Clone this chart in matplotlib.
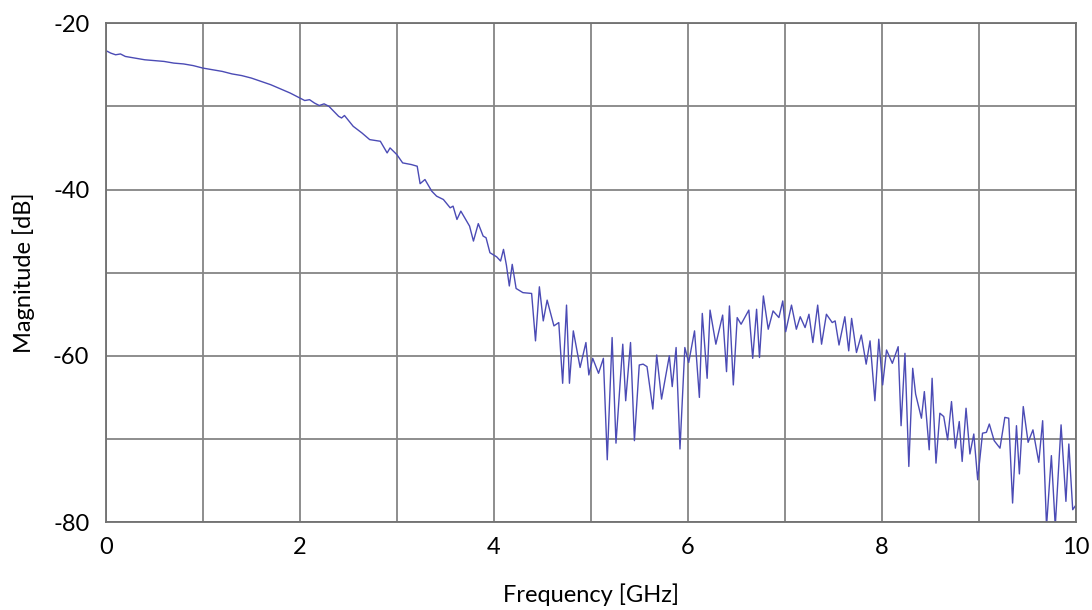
import matplotlib
matplotlib.use("Agg")
import matplotlib.pyplot as plt
from matplotlib.ticker import MultipleLocator

plt.rcParams['font.family'] = ['Lato', 'DejaVu Sans']
plt.rcParams['axes.unicode_minus'] = False

# Frequency response
freq = [0.00, 0.05, 0.10, 0.15, 0.20, 0.30, 0.40, 0.50, 0.60, 0.70,
        0.80, 0.90, 1.00, 1.10, 1.20, 1.30, 1.40, 1.50, 1.60, 1.70,
        1.80, 1.90, 2.00, 2.05, 2.10, 2.15, 2.20, 2.25, 2.30, 2.35,
        2.40, 2.43, 2.46, 2.55, 2.64, 2.72, 2.83, 2.90, 2.93, 3.00,
        3.06, 3.15, 3.21, 3.24, 3.29, 3.36, 3.41, 3.48, 3.55, 3.58,
        3.62, 3.66, 3.72, 3.75, 3.79, 3.84, 3.89, 3.92, 3.96, 4.03,
        4.07, 4.10, 4.13, 4.16, 4.19, 4.23, 4.30, 4.39, 4.43, 4.47,
        4.51, 4.55, 4.62, 4.67, 4.71, 4.75, 4.78, 4.82, 4.89, 4.95,
        4.98, 5.02, 5.08, 5.13, 5.17, 5.22, 5.26, 5.33, 5.36, 5.41,
        5.45, 5.50, 5.54, 5.58, 5.64, 5.68, 5.73, 5.81, 5.84, 5.88,
        5.92, 5.97, 6.01, 6.07, 6.12, 6.15, 6.20, 6.23, 6.29, 6.36,
        6.40, 6.43, 6.47, 6.51, 6.55, 6.63, 6.67, 6.71, 6.74, 6.78,
        6.83, 6.88, 6.94, 6.98, 7.01, 7.07, 7.12, 7.16, 7.21, 7.25,
        7.29, 7.34, 7.38, 7.43, 7.49, 7.52, 7.56, 7.62, 7.66, 7.69,
        7.74, 7.79, 7.84, 7.88, 7.93, 7.97, 8.01, 8.05, 8.11, 8.17,
        8.20, 8.24, 8.28, 8.32, 8.35, 8.41, 8.44, 8.49, 8.52, 8.56,
        8.60, 8.64, 8.68, 8.72, 8.76, 8.80, 8.83, 8.87, 8.91, 8.95,
        8.99, 9.04, 9.08, 9.11, 9.16, 9.22, 9.27, 9.31, 9.35, 9.39,
        9.42, 9.46, 9.51, 9.56, 9.62, 9.66, 9.70, 9.75, 9.79, 9.85,
        9.90, 9.93, 9.97, 10.00]

mag = [-23.3, -23.6, -23.8, -23.7, -24.0, -24.2, -24.4, -24.5, -24.6, -24.8,
       -24.9, -25.1, -25.4, -25.6, -25.8, -26.1, -26.3, -26.6, -27.0, -27.4,
       -27.9, -28.4, -29.0, -29.3, -29.2, -29.6, -29.9, -29.7, -30.0, -30.6,
       -31.2, -31.4, -31.1, -32.4, -33.2, -34.0, -34.2, -35.6, -35.0, -35.8,
       -36.8, -37.0, -37.2, -39.3, -38.8, -40.2, -40.8, -41.2, -42.2, -42.0,
       -43.6, -42.6, -43.8, -44.4, -46.2, -44.1, -45.6, -45.8, -47.6, -48.1,
       -48.6, -47.2, -49.1, -51.6, -49.0, -51.9, -52.4, -52.5, -58.2, -51.7,
       -55.8, -53.3, -56.4, -56.0, -63.3, -53.9, -63.3, -57.0, -61.4, -58.4,
       -62.3, -60.3, -62.1, -60.3, -72.5, -57.8, -70.5, -58.6, -65.4, -58.4,
       -70.2, -61.1, -61.0, -61.3, -66.4, -59.9, -65.2, -60.0, -63.7, -59.0,
       -71.2, -59.0, -60.8, -57.0, -65.0, -54.9, -62.7, -54.5, -58.6, -55.1,
       -61.9, -54.0, -63.5, -55.4, -56.2, -54.5, -60.3, -54.4, -60.2, -52.8,
       -56.8, -54.6, -55.4, -53.4, -57.1, -53.9, -56.8, -55.3, -56.6, -55.0,
       -58.4, -53.9, -58.6, -55.0, -56.0, -55.8, -58.7, -55.3, -59.4, -55.5,
       -59.6, -57.5, -61.0, -58.2, -65.4, -58.0, -63.5, -59.3, -60.9, -58.9,
       -68.4, -59.7, -73.3, -61.5, -64.6, -67.5, -64.3, -71.3, -62.7, -72.9,
       -66.9, -67.3, -70.1, -65.5, -71.1, -67.9, -72.7, -66.3, -71.8, -69.4,
       -74.9, -69.3, -69.2, -68.2, -70.2, -71.1, -67.4, -67.5, -77.7, -68.4,
       -74.2, -66.1, -70.4, -68.9, -72.8, -67.8, -80.5, -72.0, -80.5, -68.3,
       -77.5, -70.6, -78.5, -78.0]

x_ticks = [0, 2, 4, 6, 8, 10]
y_ticks = [-80, -60, -40, -20]

fig = plt.figure(figsize=(10.92, 6.10), dpi=100)
ax = fig.add_axes([0.097, 0.144, 0.888, 0.818])

ax.plot(freq, mag, color='#4b4bb5', lw=1.0)

ax.set_xlim(0, 10)
ax.set_ylim(-80, -20)
ax.set_xticks(x_ticks)
ax.set_yticks(y_ticks)
ax.xaxis.set_minor_locator(MultipleLocator(1))
ax.yaxis.set_minor_locator(MultipleLocator(10))
ax.grid(True, which='both', color='#858585', lw=1.3)
ax.set_axisbelow(True)

ax.tick_params(which='both', length=0, labelsize=17, colors='black')
ax.tick_params(axis='x', pad=11)
ax.tick_params(axis='y', pad=12)

for sp in ax.spines.values():
    sp.set_color('#707070')
    sp.set_linewidth(1.3)

ax.set_xlabel('Frequency [GHz]', fontsize=17, labelpad=18)
ax.set_ylabel('Magnitude [dB]', fontsize=17, labelpad=13)

fig.savefig('out.png', dpi=100)
